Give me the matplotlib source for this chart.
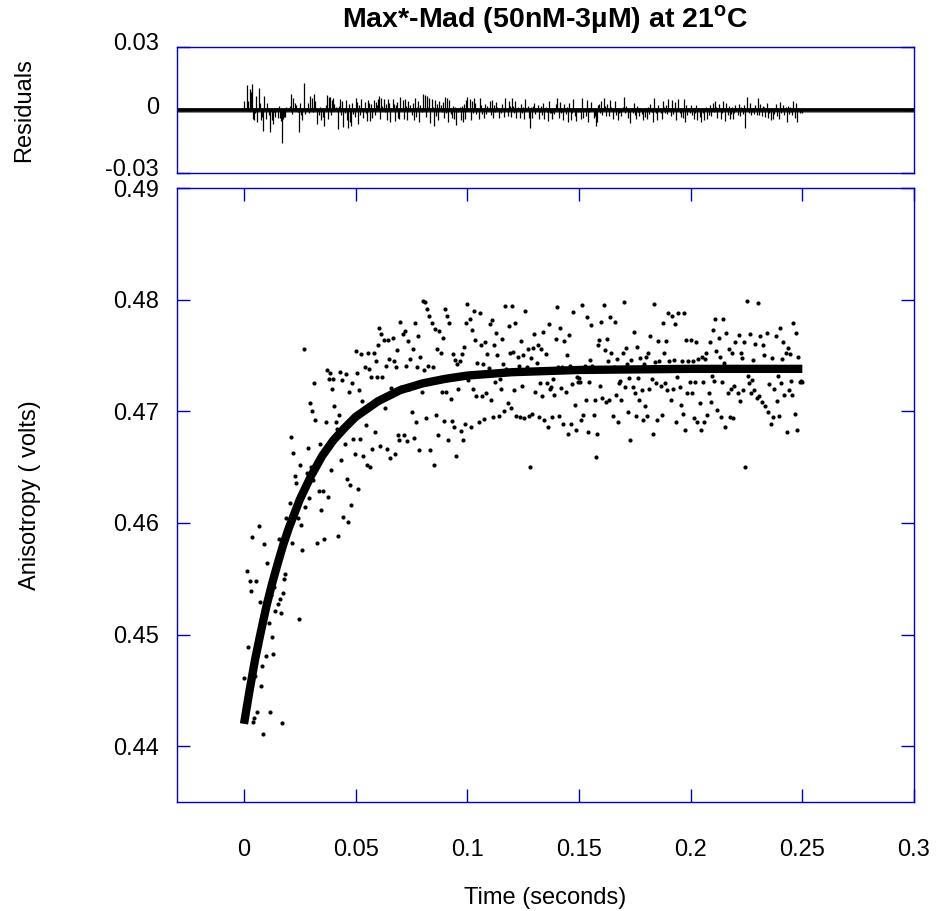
import numpy as np
import matplotlib.pyplot as plt
from matplotlib.transforms import ScaledTranslation

plt.rcParams['font.family'] = ['Liberation Sans', 'DejaVu Sans']
plt.rcParams['mathtext.fontset'] = 'custom'
plt.rcParams['mathtext.rm'] = 'Liberation Sans'
plt.rcParams['mathtext.bf'] = 'Liberation Sans:bold'

# DATA

T0 = 0.0                                                    # first sample (s)
DT = 0.0005                                                 # sample spacing (s)

anisotropy = [
    0.4461, 0.4428, 0.4436, 0.4557, 0.4489, 0.4548, 0.4539, 0.4587, 0.4422, 0.4425,
    0.4463, 0.4548, 0.4431, 0.4597, 0.4529, 0.4454, 0.4472, 0.4411, 0.4581, 0.4529,
    0.4481, 0.4564, 0.4510, 0.4431, 0.4535, 0.4498, 0.4483, 0.4543, 0.4521, 0.4556,
    0.4527, 0.4586, 0.4532, 0.4519, 0.4421, 0.4537, 0.4550, 0.4554, 0.4604, 0.4594,
    0.4594, 0.4618, 0.4677, 0.4582, 0.4663, 0.4607, 0.4642, 0.4636, 0.4604, 0.4514,
    0.4652, 0.4598, 0.4576, 0.4631, 0.4756, 0.4614, 0.4645, 0.4667, 0.4622, 0.4707,
    0.4650, 0.4700, 0.4638, 0.4725, 0.4692, 0.4582, 0.4652, 0.4629, 0.4671, 0.4612,
    0.4660, 0.4629, 0.4586, 0.4690, 0.4737, 0.4623, 0.4729, 0.4734, 0.4647, 0.4720,
    0.4729, 0.4705, 0.4690, 0.4684, 0.4588, 0.4697, 0.4735, 0.4656, 0.4728, 0.4605,
    0.4671, 0.4733, 0.4639, 0.4601, 0.4717, 0.4634, 0.4616, 0.4725, 0.4675, 0.4662,
    0.4754, 0.4734, 0.4630, 0.4719, 0.4675, 0.4751, 0.4709, 0.4660, 0.4740, 0.4688,
    0.4652, 0.4752, 0.4738, 0.4650, 0.4731, 0.4666, 0.4752, 0.4681, 0.4745, 0.4731,
    0.4759, 0.4775, 0.4669, 0.4769, 0.4731, 0.4764, 0.4703, 0.4741, 0.4666, 0.4764,
    0.4747, 0.4658, 0.4721, 0.4766, 0.4745, 0.4662, 0.4740, 0.4755, 0.4679, 0.4674,
    0.4780, 0.4722, 0.4769, 0.4679, 0.4772, 0.4741, 0.4673, 0.4763, 0.4720, 0.4747,
    0.4699, 0.4756, 0.4676, 0.4779, 0.4690, 0.4740, 0.4767, 0.4665, 0.4749, 0.4717,
    0.4799, 0.4737, 0.4798, 0.4694, 0.4792, 0.4741, 0.4785, 0.4665, 0.4779, 0.4740,
    0.4652, 0.4774, 0.4697, 0.4756, 0.4679, 0.4772, 0.4752, 0.4717, 0.4766, 0.4691,
    0.4792, 0.4717, 0.4785, 0.4674, 0.4779, 0.4711, 0.4691, 0.4751, 0.4686, 0.4746,
    0.4660, 0.4742, 0.4720, 0.4745, 0.4682, 0.4751, 0.4674, 0.4758, 0.4689, 0.4779,
    0.4796, 0.4728, 0.4783, 0.4686, 0.4773, 0.4720, 0.4790, 0.4764, 0.4714, 0.4743,
    0.4690, 0.4788, 0.4759, 0.4714, 0.4742, 0.4693, 0.4762, 0.4716, 0.4751, 0.4739,
    0.4778, 0.4710, 0.4782, 0.4695, 0.4759, 0.4726, 0.4770, 0.4750, 0.4696, 0.4729,
    0.4720, 0.4765, 0.4742, 0.4700, 0.4794, 0.4738, 0.4707, 0.4776, 0.4752, 0.4703,
    0.4794, 0.4753, 0.4719, 0.4779, 0.4696, 0.4749, 0.4741, 0.4695, 0.4763, 0.4723,
    0.4750, 0.4694, 0.4790, 0.4740, 0.4756, 0.4696, 0.4650, 0.4748, 0.4698, 0.4757,
    0.4769, 0.4717, 0.4743, 0.4759, 0.4695, 0.4725, 0.4756, 0.4714, 0.4771, 0.4692,
    0.4751, 0.4725, 0.4686, 0.4778, 0.4720, 0.4722, 0.4695, 0.4729, 0.4715, 0.4765,
    0.4793, 0.4740, 0.4696, 0.4775, 0.4721, 0.4740, 0.4689, 0.4763, 0.4717, 0.4750,
    0.4680, 0.4768, 0.4741, 0.4689, 0.4724, 0.4789, 0.4706, 0.4683, 0.4731, 0.4726,
    0.4730, 0.4726, 0.4692, 0.4795, 0.4697, 0.4741, 0.4710, 0.4784, 0.4681, 0.4726,
    0.4746, 0.4777, 0.4741, 0.4697, 0.4710, 0.4659, 0.4680, 0.4759, 0.4764, 0.4723,
    0.4780, 0.4712, 0.4795, 0.4755, 0.4708, 0.4765, 0.4745, 0.4710, 0.4784, 0.4752,
    0.4696, 0.4740, 0.4780, 0.4715, 0.4747, 0.4690, 0.4725, 0.4727, 0.4710, 0.4752,
    0.4798, 0.4722, 0.4757, 0.4742, 0.4699, 0.4730, 0.4674, 0.4746, 0.4722, 0.4771,
    0.4716, 0.4696, 0.4758, 0.4730, 0.4710, 0.4748, 0.4719, 0.4692, 0.4742, 0.4705,
    0.4749, 0.4696, 0.4752, 0.4720, 0.4767, 0.4729, 0.4680, 0.4796, 0.4744, 0.4725,
    0.4692, 0.4763, 0.4745, 0.4723, 0.4697, 0.4779, 0.4752, 0.4725, 0.4763, 0.4719,
    0.4788, 0.4745, 0.4710, 0.4785, 0.4720, 0.4746, 0.4778, 0.4690, 0.4731, 0.4788,
    0.4722, 0.4706, 0.4745, 0.4698, 0.4788, 0.4683, 0.4764, 0.4716, 0.4745, 0.4726,
    0.4764, 0.4716, 0.4745, 0.4694, 0.4726, 0.4762, 0.4690, 0.4747, 0.4707, 0.4683,
    0.4749, 0.4726, 0.4690, 0.4747, 0.4752, 0.4697, 0.4716, 0.4762, 0.4708, 0.4732,
    0.4773, 0.4727, 0.4783, 0.4754, 0.4701, 0.4766, 0.4749, 0.4695, 0.4726, 0.4783,
    0.4743, 0.4686, 0.4770, 0.4716, 0.4756, 0.4695, 0.4720, 0.4752, 0.4694, 0.4723,
    0.4762, 0.4740, 0.4716, 0.4768, 0.4709, 0.4752, 0.4748, 0.4719, 0.4762, 0.4650,
    0.4799, 0.4732, 0.4725, 0.4769, 0.4716, 0.4728, 0.4746, 0.4719, 0.4760, 0.4712,
    0.4797, 0.4714, 0.4767, 0.4740, 0.4708, 0.4759, 0.4750, 0.4705, 0.4770, 0.4699,
    0.4724, 0.4740, 0.4689, 0.4748, 0.4695, 0.4720, 0.4767, 0.4709, 0.4732, 0.4696,
    0.4775, 0.4725, 0.4747, 0.4762, 0.4715, 0.4752, 0.4681, 0.4757, 0.4719, 0.4751,
    0.4727, 0.4715, 0.4779, 0.4698, 0.4770, 0.4683, 0.4749, 0.4740, 0.4726, 0.4727,
    0.4726,
]

# fitted curve
fit_t = [0.0, 0.0025, 0.005, 0.0075, 0.01, 0.0125, 0.015, 0.0175, 0.02, 0.025,
         0.03, 0.035, 0.04, 0.045, 0.05, 0.06, 0.07, 0.08, 0.09, 0.10,
         0.12, 0.15, 0.20, 0.25]
fit_a = [0.4420, 0.4450, 0.4478, 0.4502, 0.4525, 0.4545, 0.4563, 0.4580, 0.4595, 0.4621,
         0.4642, 0.4660, 0.4674, 0.4685, 0.4695, 0.4709, 0.4719, 0.4725, 0.4729, 0.4732,
         0.4735, 0.4737, 0.4738, 0.4738]

x_ticks = [0, 0.05, 0.1, 0.15, 0.2, 0.25, 0.3]
x_labels = ['0', '0.05', '0.1', '0.15', '0.2', '0.25', '0.3']
y_ticks = [0.44, 0.45, 0.46, 0.47, 0.48, 0.49]
y_labels = ['0.44', '0.45', '0.46', '0.47', '0.48', '0.49']
res_ticks = [-0.03, 0, 0.03]
res_labels = ['-0.03', '0', '0.03']

TITULO = r'Max*-Mad (50nM-3µM) at 21$^{\mathbf{o}}$C'

# FIGURA

AZUL = '#0000cc'
W, H = 936, 911

t = T0 + DT * np.arange(len(anisotropy))
anis = np.array(anisotropy)
residuos = anis - np.interp(t, fit_t, fit_a)

fig = plt.figure(figsize=(W / 100, H / 100), dpi=100)
ax_res = fig.add_axes([177 / W, 1 - 173 / H, 737 / W, 126 / H])
ax = fig.add_axes([177 / W, 1 - 802 / H, 737 / W, 614 / H])

for a in (ax_res, ax):
    for s in a.spines.values():
        s.set_color(AZUL)
        s.set_linewidth(1.0)
    a.set_xlim(-0.03, 0.3)
    a.tick_params(direction='in', length=9.5, width=1, color=AZUL,
                  labelsize=17, top=True, right=True)
    a.tick_params(axis='y', pad=13)

# residuos
ax_res.axhline(0, color='#888888', lw=3.6, zorder=1)
ax_res.axhline(0, color='k', lw=2.6, zorder=2)
ax_res.vlines(t, 0, residuos, color='k', lw=0.9, zorder=3)
ax_res.set_ylim(-0.03, 0.03)
ax_res.set_yticks(res_ticks)
ax_res.set_yticklabels(res_labels)
ax_res.tick_params(axis='x', bottom=False, top=False, labelbottom=False)
subir = ScaledTranslation(0, 5 / 100, fig.dpi_scale_trans)      # etiquetas algo mas arriba
for lab in ax_res.get_yticklabels():
    lab.set_transform(lab.get_transform() + subir)

# datos + ajuste
ax.plot(t, anis, 'o', ms=3, color='k', mec='none')
ax.plot(fit_t, fit_a, '-', color='k', lw=6, solid_capstyle='butt')
ax.set_ylim(0.435, 0.49)
ax.set_yticks(y_ticks)
ax.set_yticklabels(y_labels)
ax.set_xticks(x_ticks)
ax.set_xticklabels(x_labels)
ax.tick_params(axis='x', pad=27)

fig.text(545.5 / W, 1 - 20 / H, TITULO, ha='center', va='center',
         fontsize=20.5, fontweight='bold')
fig.text(24 / W, 1 - 110 / H, 'Residuals', rotation=90, ha='center',
         va='center', fontsize=17)
fig.text(30 / W, 1 - 495 / H, 'Anisotropy ( volts)', rotation=90,
         ha='center', va='center', fontsize=17)
fig.text(545.5 / W, 1 - 898 / H, 'Time (seconds)', ha='center', va='center',
         fontsize=17)

fig.savefig('out.png', dpi=100)
